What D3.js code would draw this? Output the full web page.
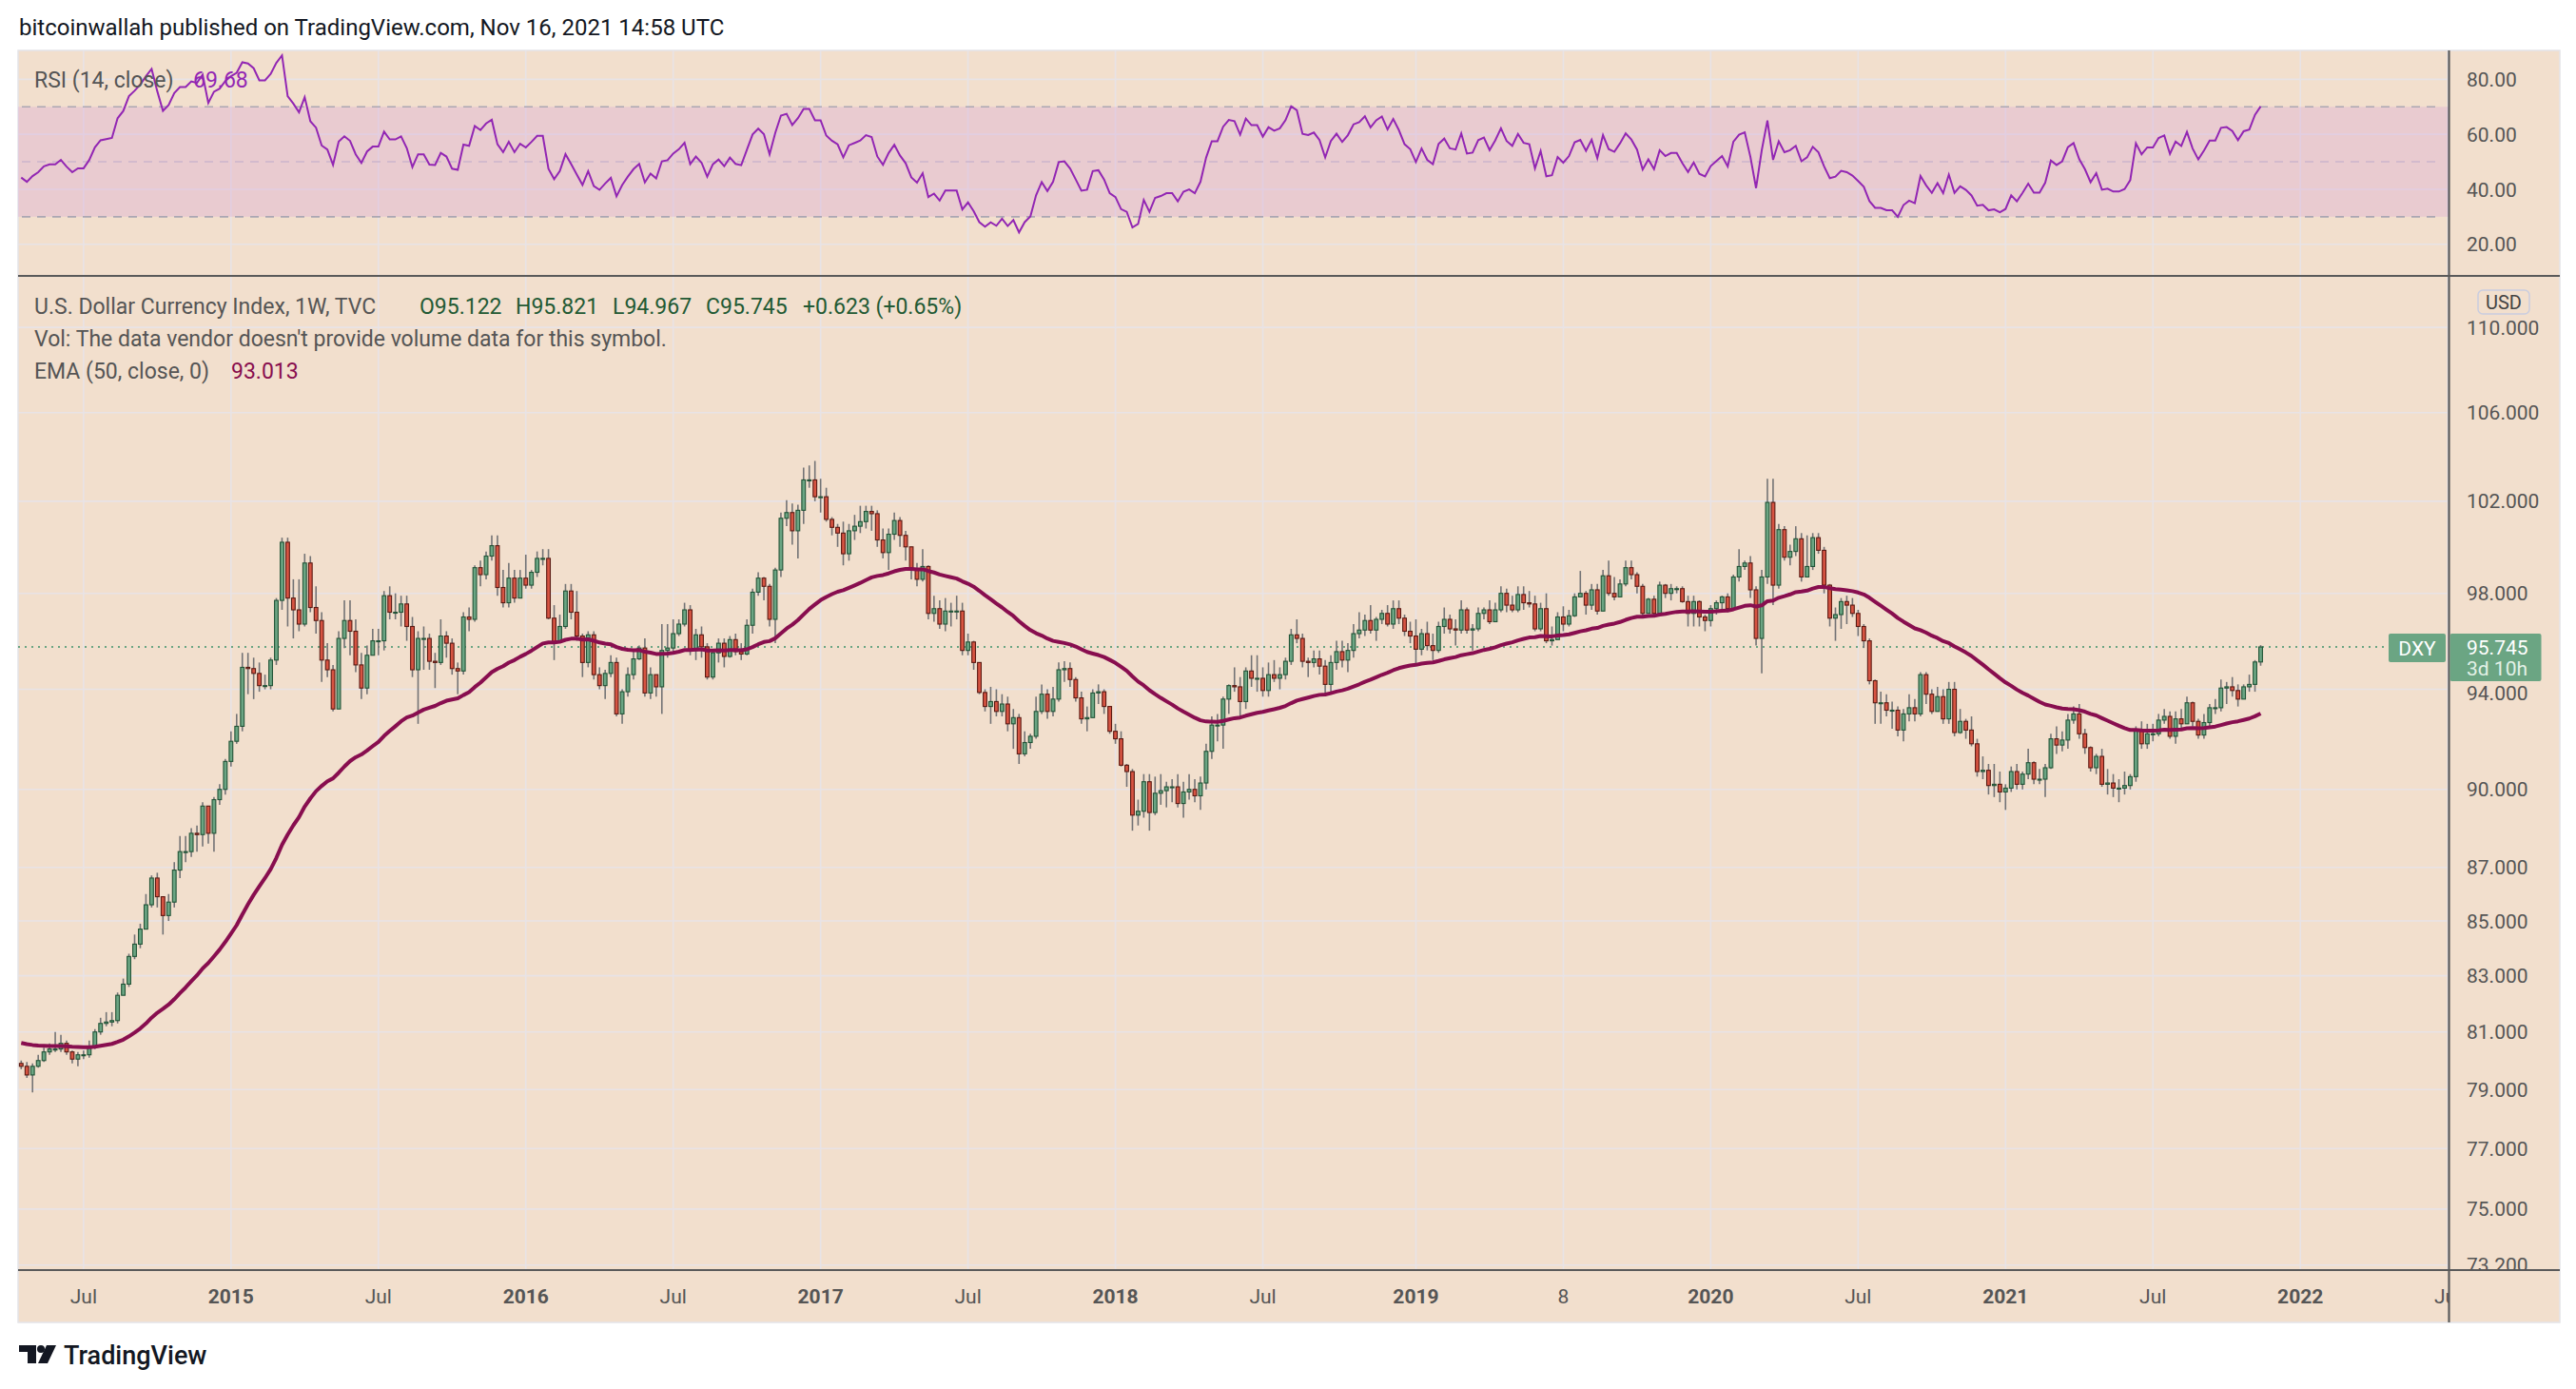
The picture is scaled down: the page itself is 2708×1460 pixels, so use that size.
<!DOCTYPE html>
<html>
<head>
<meta charset="utf-8">
<script src="https://cdn.jsdelivr.net/npm/d3@7"></script>
<style>
  html, body { margin: 0; padding: 0; background: #fff; }
  svg { display: block; font-family: Roboto, "Noto Sans", sans-serif; }
</style>
</head>
<body>
<svg id="chart" width="2708" height="1460"></svg>
<script>
// weekly DXY bars, first bar is the week of 2014-04-21
const startWeek = "2014-04-21";
const firstOpen = 79.9;

const closes = [
  79.8, 79.5, 79.8, 80.0, 80.3, 80.4, 80.4, 80.6, 80.3, 80.05,
  80.2, 80.2, 80.5, 81.0, 81.3, 81.35, 81.4, 82.3, 82.7, 83.7,
  84.15, 84.7, 85.6, 86.6, 85.9, 85.2, 85.7, 86.9, 87.6, 87.6,
  88.3, 88.25, 89.35, 88.3, 89.6, 90.0, 91.1, 91.9, 92.5, 94.9,
  94.85, 94.65, 94.15, 94.15, 95.2, 97.7, 100.2, 97.8, 97.3, 96.7,
  99.3, 97.4, 96.85, 95.2, 94.8, 93.2, 96.1, 96.85, 96.4, 95.0,
  94.05, 95.4, 96.0, 96.0, 97.9, 97.2, 97.2, 97.55, 96.6, 94.8,
  96.1, 96.1, 95.15, 95.1, 96.2, 95.9, 94.85, 94.75, 97.0, 96.9,
  99.1, 98.8, 99.6, 100.05, 98.25, 97.6, 98.65, 97.8, 98.65, 98.35,
  98.9, 99.5, 99.5, 96.95, 95.95, 96.6, 98.1, 97.2, 96.2, 95.1,
  96.25, 94.6, 94.15, 94.65, 95.1, 93.0, 93.9, 94.6, 95.25, 95.7,
  93.85, 94.6, 94.1, 95.6, 95.7, 96.3, 96.7, 97.3, 95.6, 96.25,
  95.75, 94.5, 95.5, 95.9, 95.35, 96.05, 95.55, 95.45, 96.65, 98.05,
  98.65, 98.3, 96.9, 99.0, 101.25, 101.5, 100.7, 101.6, 102.95, 102.95,
  102.2, 102.2, 101.2, 100.85, 100.6, 99.7, 100.7, 100.9, 101.1, 101.55,
  101.45, 100.3, 99.75, 100.55, 101.15, 100.5, 100.0, 99.0, 98.6, 99.15,
  97.15, 97.35, 96.7, 97.25, 97.25, 97.25, 95.6, 95.95, 95.1, 93.87,
  93.3, 93.5, 93.1, 93.4, 92.6, 92.85, 91.4, 91.85, 92.1, 93.1,
  93.8, 93.1, 93.6, 94.8, 94.85, 94.4, 93.65, 92.8, 92.85, 93.85,
  93.9, 93.3, 92.3, 92.0, 90.95, 90.7, 89.0, 89.15, 90.3, 89.1,
  89.85, 89.95, 90.1, 90.1, 89.45, 89.9, 90.0, 89.75, 90.25, 91.5,
  92.55, 92.55, 93.6, 94.15, 94.1, 93.5, 94.75, 94.45, 94.45, 93.95,
  94.6, 94.45, 94.6, 95.15, 96.25, 96.1, 95.15, 95.1, 95.25, 94.95,
  94.2, 95.1, 95.55, 95.2, 95.6, 96.3, 96.45, 96.85, 96.45, 96.9,
  97.15, 96.7, 97.35, 96.95, 96.4, 96.2, 95.65, 96.3, 95.8, 95.6,
  96.6, 96.9, 96.5, 96.45, 97.3, 96.45, 96.5, 97.15, 97.3, 96.8,
  97.3, 98.0, 97.5, 97.3, 97.95, 97.6, 97.55, 96.5, 97.35, 96.0,
  96.05, 97.0, 96.7, 97.05, 97.85, 98.0, 97.5, 98.15, 97.25, 98.75,
  98.0, 97.85, 98.4, 99.1, 98.8, 98.3, 97.15, 97.75, 97.15, 98.35,
  98.0, 98.2, 98.2, 97.65, 97.15, 97.65, 97.0, 96.85, 97.35, 97.6,
  97.85, 97.35, 98.7, 99.15, 99.3, 98.15, 96.1, 98.7, 101.95, 98.35,
  100.75, 99.55, 99.8, 100.35, 98.7, 99.15, 100.4, 99.85, 98.35, 96.95,
  97.1, 97.65, 97.5, 97.15, 96.6, 96.0, 94.35, 93.45, 93.45, 93.15,
  93.15, 92.35, 93.0, 93.25, 93.0, 94.6, 93.8, 93.1, 93.7, 92.8,
  94.0, 92.25, 92.7, 92.35, 91.8, 90.7, 90.75, 90.15, 90.2, 89.9,
  90.05, 90.7, 90.2, 90.6, 91.05, 90.4, 90.4, 90.85, 92.0, 91.75,
  91.95, 92.75, 93.0, 92.2, 91.65, 90.85, 91.3, 90.2, 90.25, 90.05,
  90.05, 90.15, 90.5, 92.35, 91.8, 92.2, 92.2, 92.75, 92.9, 92.1,
  92.8, 92.6, 93.45, 92.7, 92.15, 92.65, 93.25, 93.25, 94.05, 94.1,
  93.95, 93.6, 94.1, 94.2, 95.122, 95.745
];

const highs = [
  80.0, 79.95, 79.9, 80.2, 80.45, 80.6, 81.0, 80.9, 80.7, 80.35,
  80.3, 80.35, 80.7, 81.1, 81.5, 81.7, 81.7, 82.4, 82.9, 83.8,
  84.5, 84.9, 86.0, 86.7, 86.8, 85.9, 86.0, 87.2, 88.2, 88.2,
  88.5, 88.6, 89.5, 89.3, 89.7, 90.2, 91.2, 92.3, 93.0, 95.5,
  95.5, 95.3, 95.1, 94.6, 95.3, 97.8, 100.4, 100.4, 98.6, 98.6,
  99.7, 99.6, 98.3, 97.2, 95.9, 95.0, 96.4, 97.7, 97.7, 96.9,
  95.5, 95.8, 96.5, 96.5, 98.1, 98.3, 98.0, 97.9, 97.9, 97.0,
  96.4, 96.6, 96.3, 95.5, 96.9, 96.4, 96.1, 95.1, 97.2, 97.4,
  99.2, 99.4, 99.8, 100.5, 100.5, 99.0, 99.3, 99.0, 99.0, 99.66,
  99.0, 99.8, 99.9, 99.9, 97.5, 97.1, 98.4, 98.4, 98.1, 96.3,
  96.4, 96.4, 94.9, 94.8, 95.4, 95.3, 94.0, 94.9, 95.6, 95.8,
  96.1, 94.9, 94.6, 96.7, 96.7, 96.9, 96.9, 97.6, 97.5, 96.5,
  96.6, 95.9, 95.6, 96.1, 96.1, 96.2, 96.3, 95.9, 96.9, 98.2,
  98.9, 98.7, 98.4, 99.1, 101.5, 102.05, 101.9, 101.85, 103.5, 103.6,
  103.8, 103.0, 102.6, 101.3, 101.0, 101.1, 101.0, 101.4, 101.8, 101.8,
  101.8, 101.6, 100.8, 100.8, 101.5, 101.3, 100.7, 100.0, 99.3, 99.9,
  99.2, 97.9, 97.7, 97.8, 97.6, 97.9, 97.6, 96.3, 96.0, 95.1,
  94.0, 94.1, 94.0, 93.8, 93.7, 93.2, 93.0, 92.3, 92.2, 93.7,
  94.2, 94.0, 94.1, 95.1, 95.15, 95.1, 94.5, 93.9, 93.3, 94.0,
  94.2, 94.0, 93.3, 92.6, 92.3, 91.0, 90.8, 89.6, 90.6, 90.6,
  90.5, 90.6, 90.3, 90.4, 90.6, 90.3, 90.6, 90.4, 90.5, 91.8,
  92.9, 93.0, 93.7, 94.2, 94.9, 94.5, 94.9, 95.4, 95.4, 94.9,
  95.1, 95.2, 94.9, 95.3, 96.5, 96.9, 96.3, 95.3, 95.6, 95.6,
  95.2, 95.4, 96.0, 96.0, 95.9, 96.7, 97.2, 97.1, 97.5, 97.0,
  97.3, 97.5, 97.7, 97.7, 97.1, 96.8, 96.9, 96.5, 96.8, 96.3,
  96.8, 97.4, 97.1, 96.9, 97.7, 97.4, 96.7, 97.4, 97.4, 97.7,
  97.6, 98.3, 98.2, 97.9, 98.3, 98.3, 98.1, 97.9, 97.6, 98.0,
  96.6, 97.2, 97.45, 97.3, 98.0, 98.96, 98.1, 98.4, 98.4, 99.0,
  99.4, 98.7, 98.6, 99.4, 99.4, 98.9, 98.4, 97.8, 97.9, 98.5,
  98.4, 98.4, 98.3, 98.3, 97.9, 97.9, 97.7, 97.1, 97.5, 97.7,
  97.9, 98.0, 98.8, 99.9, 99.4, 99.6, 98.3, 99.0, 103.0, 103.0,
  101.0, 100.9, 100.1, 100.9, 100.6, 100.5, 100.6, 100.6, 100.0, 98.4,
  97.4, 97.8, 97.9, 97.8, 97.3, 96.7, 96.1, 94.4, 93.9, 93.8,
  93.5, 93.3, 93.2, 93.8, 93.6, 94.7, 94.7, 94.0, 94.1, 94.0,
  94.3, 94.3, 93.2, 92.8, 92.9, 92.0, 91.3, 91.0, 91.0, 90.7,
  90.2, 90.9, 91.0, 90.7, 91.6, 91.1, 90.8, 91.0, 92.2, 92.5,
  92.3, 93.0, 93.3, 93.4, 92.4, 91.7, 91.4, 91.6, 90.8, 90.6,
  90.4, 90.7, 90.6, 92.5, 92.7, 92.6, 92.6, 93.0, 93.2, 93.1,
  93.1, 93.2, 93.7, 93.5, 92.8, 93.0, 93.4, 93.6, 94.4, 94.3,
  94.5, 94.2, 94.2, 94.6, 95.2, 95.821
];

const lows = [
  79.7, 79.4, 78.9, 79.75, 79.95, 80.2, 80.3, 80.3, 80.2, 79.9,
  79.8, 80.05, 80.1, 80.4, 80.9, 81.2, 81.2, 81.3, 82.3, 82.6,
  83.6, 84.0, 84.7, 85.5, 85.5, 84.5, 85.0, 85.5, 86.6, 87.2,
  87.4, 87.6, 87.8, 87.9, 87.6, 89.4, 89.8, 90.9, 91.8, 92.3,
  93.8, 93.6, 93.9, 94.0, 94.0, 95.0, 97.3, 96.6, 96.1, 96.4,
  96.6, 97.2, 96.3, 94.3, 94.5, 93.1, 93.3, 95.7, 95.4, 94.7,
  93.6, 93.8, 95.4, 95.4, 95.6, 96.9, 96.9, 96.6, 96.0, 94.5,
  92.6, 94.8, 94.8, 94.05, 95.0, 95.3, 94.6, 93.8, 94.6, 96.4,
  96.8, 98.3, 98.6, 99.4, 97.9, 97.4, 97.4, 97.6, 97.8, 98.2,
  98.2, 98.7, 99.2, 96.9, 95.2, 95.9, 96.5, 96.9, 96.0, 94.5,
  94.9, 94.4, 94.0, 93.6, 94.5, 92.9, 92.6, 93.7, 94.4, 95.2,
  93.7, 93.6, 93.7, 93.0, 95.3, 95.5, 96.2, 96.6, 95.4, 95.2,
  95.3, 94.4, 94.4, 95.1, 94.9, 95.3, 95.4, 95.2, 95.4, 96.3,
  97.9, 97.7, 96.6, 95.9, 98.7, 100.9, 100.1, 99.5, 101.0, 102.6,
  102.0, 101.5, 101.1, 100.5, 100.0, 99.2, 99.4, 100.3, 100.6, 100.8,
  100.7, 100.0, 99.5, 99.0, 100.3, 100.0, 99.4, 98.6, 98.3, 98.5,
  96.9, 96.8, 96.5, 96.4, 96.6, 96.9, 95.4, 95.4, 94.8, 93.8,
  93.1, 92.6, 92.9, 92.9, 92.3, 91.6, 91.0, 91.3, 91.6, 92.0,
  93.0, 92.8, 92.9, 93.5, 94.3, 94.1, 93.5, 92.6, 92.3, 92.9,
  93.4, 93.0, 92.2, 91.8, 90.9, 90.1, 88.4, 88.6, 88.9, 88.4,
  89.0, 89.4, 89.3, 89.5, 89.3, 88.9, 89.6, 89.5, 89.2, 90.0,
  91.2, 91.9, 91.6, 93.0, 93.9, 92.9, 93.2, 94.1, 93.9, 93.7,
  93.7, 94.3, 94.0, 94.4, 95.0, 95.9, 94.9, 94.5, 94.9, 94.6,
  93.8, 93.9, 94.8, 94.9, 94.7, 95.3, 96.1, 96.2, 96.3, 96.0,
  96.7, 96.6, 96.5, 96.7, 96.2, 95.9, 95.0, 95.4, 95.6, 95.2,
  95.5, 96.3, 96.3, 95.8, 96.3, 96.3, 95.6, 96.4, 96.9, 96.7,
  96.8, 97.2, 97.2, 97.2, 97.2, 97.3, 97.4, 96.4, 96.4, 95.9,
  95.8, 96.1, 96.4, 96.6, 97.0, 97.9, 97.1, 97.3, 97.1, 97.4,
  97.9, 97.7, 97.9, 98.3, 98.6, 98.0, 97.0, 97.2, 97.0, 97.1,
  97.8, 97.7, 98.0, 97.6, 96.6, 96.6, 96.6, 96.4, 96.6, 97.1,
  97.3, 97.2, 97.3, 98.5, 99.0, 97.8, 95.8, 94.65, 98.4, 97.5,
  98.2, 99.4, 99.2, 99.6, 98.5, 98.7, 99.0, 99.7, 98.0, 96.6,
  96.0, 96.5, 96.7, 97.0, 96.2, 95.7, 94.2, 92.6, 92.6, 92.9,
  92.4, 92.1, 91.9, 92.7, 92.7, 92.9, 93.4, 93.0, 93.1, 92.6,
  92.6, 92.1, 92.2, 92.0, 91.7, 90.5, 90.4, 89.8, 89.7, 89.5,
  89.2, 89.9, 90.0, 90.0, 90.4, 90.2, 90.2, 89.7, 90.8, 91.4,
  91.5, 91.6, 92.6, 92.0, 91.4, 90.7, 90.6, 90.1, 89.8, 89.7,
  89.5, 89.8, 90.0, 90.3, 91.6, 91.6, 91.9, 92.1, 92.6, 92.0,
  91.8, 92.4, 92.6, 92.5, 92.0, 92.0, 92.5, 93.0, 93.1, 93.4,
  93.7, 93.3, 93.6, 93.9, 93.9, 94.967
];

// indicator seeds (history before the first bar)
const emaSeed = 80.65;
const rsiSeedGain = 0.30;
const rsiSeedLoss = 0.37;
const emaLabel = "93.013";
const rsiLabel = "69.68";

const priceTicks = [110, 106, 102, 98, 94, 90, 87, 85, 83, 81, 79, 77, 75, 73.2];
const rsiTicks = [80, 60, 40, 20];
const timeTicks = ["2014-07-07", "2015-01-05", "2015-07-06", "2016-01-04", "2016-07-04",
  "2017-01-02", "2017-07-03", "2018-01-01", "2018-07-02", "2019-01-07", "2019-07-08",
  "2020-01-06", "2020-07-06", "2021-01-04", "2021-07-05", "2022-01-03", "2022-07-04"];
const timeLabels = ["Jul", "2015", "Jul", "2016", "Jul", "2017", "Jul", "2018", "Jul",
  "2019", "8", "2020", "Jul", "2021", "Jul", "2022", "Jul"];

// layout
const W = 2708, H = 1460;
const pLeft = 19, pRight = 2691, axisX = 2574.5;
const pTop = 53, sepY = 290, axisY = 1335, frameBottom = 1390;
const bg = "#f2dfcd", gridCol = "#e8e3e6", textCol = "#555555";
const upFill = "#6ba583", upLine = "#225437", downFill = "#d75442", downLine = "#5b1a13";

const parse = d3.utcParse("%Y-%m-%d");
const t0 = parse(startWeek);

const bars = closes.map((c, i) => ({
  date: d3.utcDay.offset(t0, 7 * i),
  o: i ? closes[i - 1] : firstOpen,
  h: highs[i],
  l: lows[i],
  c: c
}));

// EMA(50) and RSI(14, Wilder)
let e = emaSeed;
let ag = rsiSeedGain, al = rsiSeedLoss;
bars.forEach(d => {
  e = e + (2 / 51) * (d.c - e);
  d.ema = e;
  const ch = d.c - d.o;
  ag = (ag * 13 + Math.max(ch, 0)) / 14;
  al = (al * 13 + Math.max(-ch, 0)) / 14;
  d.rsi = 100 - 100 / (1 + ag / al);
});

const x = d3.scaleUtc()
  .domain([t0, bars[bars.length - 1].date])
  .range([22.3, 22.3 + 5.96 * (bars.length - 1)]);
const y = d3.scaleLog().domain([73.04, 112.49]).range([axisY, sepY]);
const yr = d3.scaleLinear().domain([8.5, 90.5]).range([sepY, pTop]);

const svg = d3.select("#chart");
const defs = svg.append("defs");
defs.append("clipPath").attr("id", "mainClip").append("rect")
  .attr("x", pLeft).attr("y", sepY).attr("width", axisX - pLeft).attr("height", axisY - sepY);
defs.append("clipPath").attr("id", "rsiClip").append("rect")
  .attr("x", pLeft).attr("y", pTop).attr("width", axisX - pLeft).attr("height", sepY - pTop);
defs.append("clipPath").attr("id", "timeClip").append("rect")
  .attr("x", pLeft).attr("y", axisY).attr("width", axisX - pLeft).attr("height", frameBottom - axisY);
defs.append("clipPath").attr("id", "priceAxisClip").append("rect")
  .attr("x", axisX).attr("y", sepY).attr("width", pRight - axisX).attr("height", axisY - sepY);

svg.append("rect").attr("width", W).attr("height", H).attr("fill", "#fff");

svg.append("text")
  .attr("x", 20).attr("y", 37)
  .attr("font-size", 24).attr("fill", "#131722")
  .text("bitcoinwallah published on TradingView.com, Nov 16, 2021 14:58 UTC");

svg.append("rect")
  .attr("x", pLeft).attr("y", pTop)
  .attr("width", pRight - pLeft).attr("height", frameBottom - pTop)
  .attr("fill", bg).attr("stroke", "#e4e4e8").attr("stroke-width", 1.5);

// grid
const grid = svg.append("g").attr("stroke", gridCol).attr("stroke-width", 1.6);
grid.selectAll("line.v").data(timeTicks.filter(d => x(parse(d)) < axisX)).join("line")
  .attr("class", "v")
  .attr("x1", d => x(parse(d))).attr("x2", d => x(parse(d)))
  .attr("y1", pTop).attr("y2", axisY);
grid.selectAll("line.p").data(priceTicks).join("line")
  .attr("class", "p")
  .attr("x1", pLeft).attr("x2", axisX)
  .attr("y1", d => y(d)).attr("y2", d => y(d));
grid.selectAll("line.r").data(rsiTicks).join("line")
  .attr("class", "r")
  .attr("x1", pLeft).attr("x2", axisX)
  .attr("y1", d => yr(d)).attr("y2", d => yr(d));

// RSI pane
const rsiG = svg.append("g").attr("clip-path", "url(#rsiClip)");
rsiG.append("rect")
  .attr("x", pLeft).attr("y", yr(70))
  .attr("width", axisX - pLeft).attr("height", yr(30) - yr(70))
  .attr("fill", "#d8a3d8").attr("fill-opacity", 0.33);
rsiG.selectAll("line.band").data([70, 30]).join("line")
  .attr("class", "band")
  .attr("x1", pLeft + 4).attr("x2", axisX - 10)
  .attr("y1", d => yr(d)).attr("y2", d => yr(d))
  .attr("stroke", "#aba7b3").attr("stroke-width", 1.6).attr("stroke-dasharray", "9,7");
rsiG.append("line")
  .attr("x1", pLeft + 4).attr("x2", axisX - 10)
  .attr("y1", yr(50)).attr("y2", yr(50))
  .attr("stroke", "#cbb5cc").attr("stroke-width", 1.6).attr("stroke-dasharray", "9,7");
rsiG.append("path")
  .datum(bars)
  .attr("fill", "none").attr("stroke", "#9226b3").attr("stroke-width", 2)
  .attr("d", d3.line().x(d => x(d.date)).y(d => yr(d.rsi)));

// main pane
const mainG = svg.append("g").attr("clip-path", "url(#mainClip)");
const lastClose = closes[closes.length - 1];
mainG.append("line")
  .attr("x1", pLeft).attr("x2", axisX)
  .attr("y1", y(lastClose)).attr("y2", y(lastClose))
  .attr("stroke", upFill).attr("stroke-width", 2).attr("stroke-dasharray", "2,5");

mainG.append("g").selectAll("line").data(bars).join("line")
  .attr("x1", d => x(d.date)).attr("x2", d => x(d.date))
  .attr("y1", d => y(Math.max(d.h, d.o, d.c)))
  .attr("y2", d => y(Math.min(d.l, d.o, d.c)))
  .attr("stroke", "#737375").attr("stroke-width", 1.6);

mainG.append("g").selectAll("rect").data(bars).join("rect")
  .attr("x", d => x(d.date) - 1.9)
  .attr("width", 3.8)
  .attr("y", d => y(Math.max(d.o, d.c)))
  .attr("height", d => Math.max(1, y(Math.min(d.o, d.c)) - y(Math.max(d.o, d.c))))
  .attr("fill", d => d.c >= d.o ? upFill : downFill)
  .attr("stroke", d => d.c >= d.o ? upLine : downLine)
  .attr("stroke-width", 1.1);

mainG.append("path")
  .datum(bars)
  .attr("fill", "none").attr("stroke", "#880e4f").attr("stroke-width", 4)
  .attr("stroke-linejoin", "round")
  .attr("d", d3.line().x(d => x(d.date)).y(d => y(d.ema)));

// separators
const sepG = svg.append("g").attr("stroke", "#5a5a5a").attr("stroke-width", 2.2);
sepG.append("line").attr("x1", pLeft).attr("x2", pRight).attr("y1", sepY).attr("y2", sepY);
sepG.append("line").attr("x1", pLeft).attr("x2", pRight).attr("y1", axisY).attr("y2", axisY);
sepG.append("line").attr("x1", axisX).attr("x2", axisX).attr("y1", pTop).attr("y2", frameBottom);

// price axis
const lastY = y(lastClose);
svg.append("g").attr("clip-path", "url(#priceAxisClip)")
  .selectAll("text").data(priceTicks).join("text")
  .attr("x", 2593).attr("y", d => y(d) + (d === 94 ? 4 : 0))
  .attr("dy", "0.36em")
  .attr("font-size", 21).attr("fill", textCol)
  .text(d => d3.format(".3f")(d));

svg.append("g").selectAll("text").data(rsiTicks).join("text")
  .attr("x", 2593).attr("y", d => yr(d))
  .attr("dy", "0.36em")
  .attr("font-size", 21).attr("fill", textCol)
  .text(d => d3.format(".2f")(d));

// time axis
svg.append("g").attr("clip-path", "url(#timeClip)")
  .selectAll("text").data(timeTicks).join("text")
  .attr("x", d => x(parse(d))).attr("y", 1362)
  .attr("dy", "0.36em")
  .attr("text-anchor", "middle")
  .attr("font-size", 21)
  .attr("font-weight", (d, i) => /^\d{4}$/.test(timeLabels[i]) ? 700 : 400)
  .attr("fill", textCol)
  .text((d, i) => timeLabels[i]);

// USD badge
svg.append("rect")
  .attr("x", 2605).attr("y", 305).attr("width", 54).attr("height", 25).attr("rx", 5)
  .attr("fill", bg).attr("stroke", "#c9cde0").attr("stroke-width", 1.5);
svg.append("text")
  .attr("x", 2632).attr("y", 318).attr("dy", "0.36em").attr("text-anchor", "middle")
  .attr("font-size", 20).attr("fill", "#444").text("USD");

// last price labels
svg.append("rect")
  .attr("x", 2511).attr("y", lastY - 14).attr("width", 60).attr("height", 30).attr("rx", 2)
  .attr("fill", upFill);
svg.append("text")
  .attr("x", 2541).attr("y", lastY + 1).attr("dy", "0.36em").attr("text-anchor", "middle")
  .attr("font-size", 21).attr("fill", "#fff").text("DXY");
svg.append("rect")
  .attr("x", axisX + 1).attr("y", lastY - 14).attr("width", 96).attr("height", 50).attr("rx", 2)
  .attr("fill", upFill);
svg.append("text")
  .attr("x", 2593).attr("y", lastY).attr("dy", "0.36em")
  .attr("font-size", 21).attr("fill", "#fff").text(d3.format(".3f")(lastClose));
svg.append("text")
  .attr("x", 2593).attr("y", lastY + 22).attr("dy", "0.36em")
  .attr("font-size", 21).attr("fill", "#e3f1e7").text("3d 10h");

// legends
const last = bars[bars.length - 1];
const chg = last.c - last.o;
const fmt3 = d3.format(".3f");
const leg = svg.append("g").attr("font-size", 23);
leg.append("text").attr("x", 36).attr("y", 92).attr("fill", textCol).text("RSI (14, close)");
leg.append("text").attr("x", 203).attr("y", 92).attr("fill", "#9226b3").text(rsiLabel);
leg.append("text").attr("x", 36).attr("y", 330).attr("fill", textCol).text("U.S. Dollar Currency Index, 1W, TVC");
const ohlc = [["O" + fmt3(last.o), 441], ["H" + fmt3(last.h), 542], ["L" + fmt3(last.l), 644],
  ["C" + fmt3(last.c), 742],
  [(chg >= 0 ? "+" : "") + fmt3(chg) + " (" + (chg >= 0 ? "+" : "") + d3.format(".2f")(chg / last.o * 100) + "%)", 844]];
leg.selectAll("text.ohlc").data(ohlc).join("text")
  .attr("class", "ohlc")
  .attr("x", d => d[1]).attr("y", 330).attr("fill", "#235a34").text(d => d[0]);
leg.append("text").attr("x", 36).attr("y", 364).attr("fill", textCol)
  .text("Vol: The data vendor doesn't provide volume data for this symbol.");
leg.append("text").attr("x", 36).attr("y", 398).attr("fill", textCol).text("EMA (50, close, 0)");
leg.append("text").attr("x", 243).attr("y", 398).attr("fill", "#880e4f").text(emaLabel);

// TradingView logo
const logo = svg.append("g").attr("fill", "#131722");
logo.append("path").attr("d", "M20,1414 H38 V1433 H29 V1421 H20 Z");
logo.append("circle").attr("cx", 43).attr("cy", 1418).attr("r", 4);
logo.append("path").attr("d", "M49,1414 H59 L50,1433 H40 Z");
logo.append("text").attr("x", 67).attr("y", 1434)
  .attr("font-size", 27).attr("font-weight", 500).text("TradingView");
</script>
</body>
</html>
